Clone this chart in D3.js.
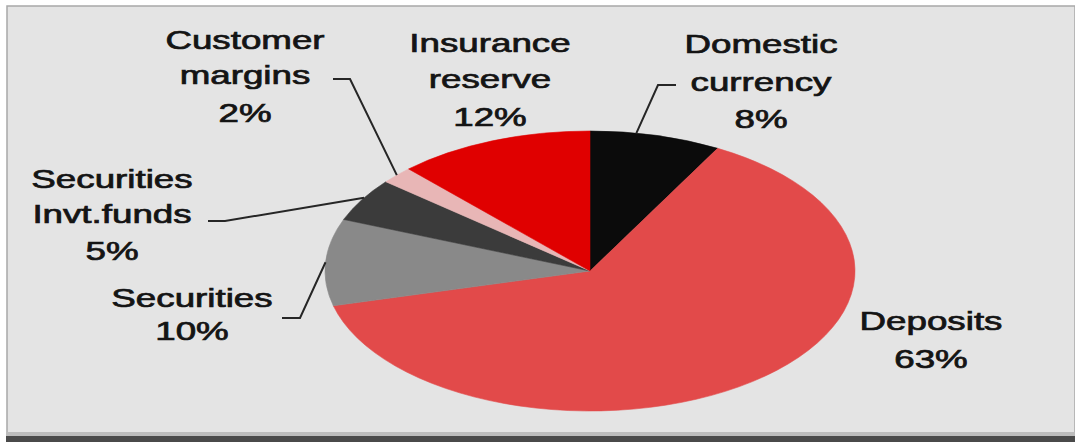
<!DOCTYPE html>
<html>
<head>
<meta charset="utf-8">
<script src="https://cdn.jsdelivr.net/npm/d3@7"></script>
<style>
  body { margin: 0; background: #fff; }
  svg { display: block; }
  .lbl { font-family: "Liberation Sans", Arial, sans-serif; font-size: 25px; fill: #141414;
         stroke: #141414; stroke-width: 0.7px; }
</style>
</head>
<body>
<script>
// data, clockwise from 12 o'clock
var categories = ["Domestic currency", "Deposits", "Securities", "Securities Invt.funds", "Customer margins", "Insurance reserve"];
var shares = [8, 63, 10, 5, 2, 12];
var labelLines = [
    ["Domestic", "currency", "8%"],
    ["Deposits", "63%"],
    ["Securities", "10%"],
    ["Securities", "Invt.funds", "5%"],
    ["Customer", "margins", "2%"],
    ["Insurance", "reserve", "12%"]
];
var colors = ["#0b0b0b", "#e24a4a", "#898989", "#3b3b3b", "#e8b6b6", "#e00000"];

var w = 1075, h = 442;
var cx = 590, cy = 271, rx = 265, ry = 140;
var stretch = 1.47; // the whole picture is stretched sideways

// label layout: text centre x, baselines, leader start + elbow (null = no leader)
var layout = [
    {x: 761, y: [53, 91, 128], lead: [[676, 85], [658, 85]]},
    {x: 931, y: [330, 368], lead: null},
    {x: 192, y: [307, 340], lead: [[282, 318], [300, 318]]},
    {x: 112, y: [188, 223, 260], lead: [[208, 221], [225, 221]]},
    {x: 245, y: [49, 84, 122], lead: [[333, 79], [350, 79]]},
    {x: 490, y: [52, 88, 126], lead: null}
];

var svg = d3.select("body").append("svg")
    .attr("width", w)
    .attr("height", h);

// panel
svg.append("rect")
    .attr("x", 7).attr("y", 6)
    .attr("width", w - 7).attr("height", 431)
    .attr("fill", "#e4e4e4")
    .attr("stroke", "#a8a8a8")
    .attr("stroke-width", 1.5);
svg.append("rect")
    .attr("x", 7).attr("y", 432)
    .attr("width", w - 7).attr("height", 4)
    .attr("fill", "#bcbcbc");
svg.append("rect")
    .attr("x", 6).attr("y", 436)
    .attr("width", w - 6).attr("height", 6)
    .attr("fill", "#4a4a4a");

var pie = d3.pie().sort(null).value(function (d) { return d; });
var arcs = pie(shares);

var arc = d3.arc().innerRadius(0).outerRadius(ry);

var g = svg.append("g")
    .attr("transform", "translate(" + cx + "," + cy + ") scale(" + (rx / ry) + ",1)");

g.selectAll("path")
    .data(arcs)
    .enter()
    .append("path")
    .attr("d", arc)
    .attr("fill", function (d, i) { return colors[i]; })
    .attr("stroke", function (d, i) { return colors[i]; })
    .attr("stroke-width", 0.4);

// leader lines to the rim near each slice's middle angle
function rimPoint(d, k) {
    var a = d.startAngle + (d.endAngle - d.startAngle) * k;
    return [cx + rx * Math.sin(a), cy - ry * Math.cos(a)];
}
var rimFrac = [0.35, 0.5, 0.5, 0.55, 0.5, 0.5];

var line = d3.line();
arcs.forEach(function (d, i) {
    var L = layout[i];
    if (!L.lead) return;
    svg.append("path")
        .attr("d", line([L.lead[0], L.lead[1], rimPoint(d, rimFrac[i])]))
        .attr("fill", "none")
        .attr("stroke", "#262626")
        .attr("stroke-width", 2);
});

// labels
labelLines.forEach(function (lines, i) {
    var L = layout[i];
    lines.forEach(function (t, j) {
        svg.append("text")
            .attr("class", "lbl")
            .attr("text-anchor", "middle")
            .attr("transform", "translate(" + L.x + "," + L.y[j] + ") scale(" + stretch + ",1)")
            .text(t);
    });
});
</script>
</body>
</html>
